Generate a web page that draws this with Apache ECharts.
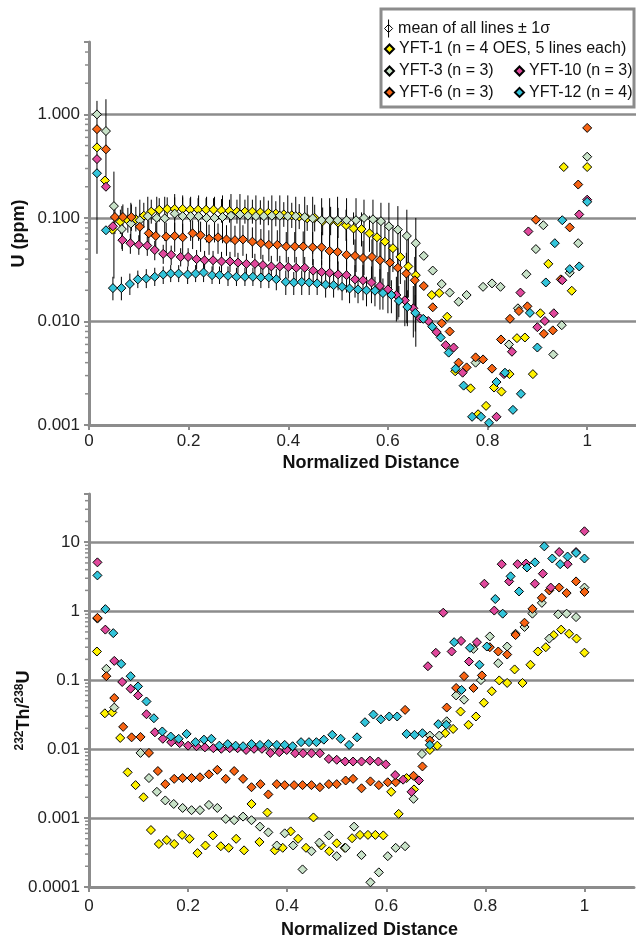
<!DOCTYPE html>
<html>
<head>
<meta charset="utf-8">
<script src="https://cdn.jsdelivr.net/npm/echarts@6/dist/echarts.min.js"></script>
<style>html,body{margin:0;padding:0;background:#fff}#c{width:636px;height:940px}</style>
</head>
<body>
<div id="c"></div>
<script>
// ---------- Data ----------
const distanceTicks = [0, 0.2, 0.4, 0.6, 0.8, 1.0];
const seriesNames = ['YFT-1 (n = 4 OES, 5 lines each)', 'YFT-3 (n = 3)', 'YFT-6 (n = 3)', 'YFT-10 (n = 3)', 'YFT-12 (n = 4)'];
const meanName = 'mean of all lines \u00b1 1\u03c3';

// Top panel: U (ppm) vs normalized distance, [x, U]
const yft1U = [[0.016,0.48],[0.032,0.23],[0.047,0.077],[0.063,0.092],[0.078,0.095],[0.094,0.097],[0.110,0.105],[0.125,0.115],[0.141,0.12],[0.157,0.122],[0.172,0.122],[0.188,0.122],[0.203,0.12],[0.219,0.12],[0.235,0.12],[0.250,0.12],[0.266,0.118],[0.282,0.117],[0.297,0.115],[0.313,0.115],[0.328,0.115],[0.344,0.113],[0.360,0.112],[0.375,0.11],[0.391,0.108],[0.407,0.106],[0.422,0.103],[0.438,0.099],[0.453,0.10],[0.469,0.093],[0.485,0.094],[0.500,0.09],[0.516,0.085],[0.531,0.079],[0.547,0.078],[0.563,0.071],[0.578,0.065],[0.594,0.059],[0.610,0.051],[0.625,0.042],[0.641,0.034],[0.656,0.028],[0.688,0.018],[0.703,0.0188],[0.719,0.0111],[0.735,0.0033],[0.766,0.00226],[0.781,0.00127],[0.797,0.00153],[0.813,0.0023],[0.828,0.0021],[0.844,0.0031],[0.859,0.0069],[0.875,0.007],[0.891,0.0031],[0.906,0.012],[0.922,0.036],[0.953,0.31],[0.969,0.0198],[1.000,0.31]];
const yft3U = [[0.016,1.0],[0.034,0.69],[0.050,0.13],[0.066,0.078],[0.084,0.088],[0.102,0.095],[0.118,0.104],[0.136,0.10],[0.152,0.099],[0.172,0.11],[0.188,0.104],[0.204,0.104],[0.220,0.104],[0.236,0.10],[0.252,0.10],[0.268,0.102],[0.285,0.105],[0.303,0.108],[0.319,0.105],[0.335,0.104],[0.351,0.104],[0.367,0.105],[0.383,0.105],[0.399,0.104],[0.415,0.104],[0.433,0.102],[0.449,0.099],[0.467,0.095],[0.483,0.095],[0.499,0.095],[0.517,0.095],[0.536,0.095],[0.552,0.10],[0.570,0.097],[0.586,0.093],[0.602,0.083],[0.620,0.077],[0.638,0.067],[0.656,0.057],[0.672,0.043],[0.690,0.031],[0.708,0.023],[0.724,0.019],[0.742,0.0155],[0.758,0.018],[0.776,0.004],[0.791,0.0216],[0.809,0.0233],[0.826,0.0216],[0.843,0.006],[0.861,0.0134],[0.878,0.0286],[0.897,0.05],[0.912,0.085],[0.932,0.0048],[0.949,0.0092],[0.965,0.0295],[0.982,0.057],[1.000,0.39]];
const yft6U = [[0.016,0.72],[0.034,0.46],[0.052,0.102],[0.068,0.102],[0.085,0.102],[0.102,0.082],[0.120,0.071],[0.134,0.067],[0.155,0.066],[0.172,0.067],[0.188,0.065],[0.208,0.071],[0.224,0.068],[0.241,0.063],[0.259,0.065],[0.276,0.062],[0.293,0.061],[0.309,0.062],[0.328,0.059],[0.345,0.057],[0.361,0.055],[0.378,0.055],[0.396,0.053],[0.413,0.053],[0.430,0.053],[0.449,0.052],[0.467,0.052],[0.483,0.048],[0.499,0.047],[0.517,0.044],[0.534,0.043],[0.550,0.041],[0.568,0.042],[0.584,0.039],[0.604,0.037],[0.620,0.033],[0.637,0.029],[0.654,0.025],[0.672,0.022],[0.690,0.0137],[0.708,0.0096],[0.724,0.008],[0.742,0.004],[0.758,0.0036],[0.776,0.0045],[0.791,0.0043],[0.809,0.0035],[0.827,0.0067],[0.845,0.0106],[0.863,0.0126],[0.880,0.014],[0.897,0.096],[0.913,0.0076],[0.931,0.0082],[0.947,0.0255],[0.965,0.081],[0.982,0.21],[1.000,0.74]];
const yft10U = [[0.016,0.37],[0.034,0.20],[0.048,0.083],[0.067,0.061],[0.083,0.057],[0.100,0.055],[0.117,0.054],[0.132,0.049],[0.149,0.045],[0.165,0.044],[0.184,0.042],[0.199,0.042],[0.216,0.040],[0.232,0.039],[0.249,0.039],[0.266,0.038],[0.283,0.038],[0.299,0.037],[0.316,0.036],[0.333,0.036],[0.349,0.035],[0.366,0.034],[0.383,0.034],[0.400,0.0335],[0.416,0.033],[0.433,0.033],[0.450,0.031],[0.467,0.030],[0.483,0.0295],[0.500,0.0285],[0.517,0.028],[0.534,0.0255],[0.550,0.025],[0.567,0.0238],[0.584,0.022],[0.600,0.0204],[0.617,0.018],[0.634,0.016],[0.651,0.0134],[0.665,0.0107],[0.681,0.0101],[0.698,0.0079],[0.716,0.0059],[0.732,0.0056],[0.750,0.0032],[0.818,0.0012],[0.833,0.0031],[0.849,0.0051],[0.866,0.019],[0.882,0.074],[0.900,0.0088],[0.915,0.0101],[0.933,0.012],[0.950,0.025],[0.984,0.108],[1.000,0.15]];
const yft12U = [[0.016,0.27],[0.034,0.076],[0.048,0.021],[0.065,0.021],[0.082,0.023],[0.098,0.0255],[0.115,0.026],[0.132,0.027],[0.149,0.0284],[0.164,0.029],[0.180,0.029],[0.198,0.0284],[0.214,0.029],[0.230,0.0297],[0.247,0.028],[0.262,0.028],[0.279,0.0276],[0.296,0.027],[0.313,0.027],[0.329,0.027],[0.345,0.0266],[0.361,0.0266],[0.376,0.0256],[0.395,0.0241],[0.411,0.0238],[0.427,0.0241],[0.442,0.0238],[0.458,0.0233],[0.475,0.0227],[0.491,0.0224],[0.508,0.0216],[0.523,0.0208],[0.540,0.0204],[0.557,0.020],[0.574,0.0198],[0.590,0.0188],[0.607,0.018],[0.622,0.0158],[0.639,0.0138],[0.655,0.0121],[0.671,0.0106],[0.689,0.0089],[0.706,0.0070],[0.722,0.0050],[0.736,0.0035],[0.752,0.0024],[0.769,0.0012],[0.787,0.0012],[0.803,0.00105],[0.818,0.0026],[0.835,0.0032],[0.851,0.0014],[0.867,0.0020],[0.885,0.0121],[0.900,0.0056],[0.917,0.0238],[0.935,0.057],[0.950,0.095],[0.965,0.032],[0.984,0.034],[1.000,0.143]];

// Top panel error bars (mean of all lines +/- 1 sigma): [x, low, high]
const yft1Err = [[0.063,0.07,0.12],[0.078,0.072,0.125],[0.094,0.074,0.128],[0.110,0.08,0.14],[0.125,0.088,0.15],[0.141,0.092,0.155],[0.157,0.094,0.158],[0.172,0.094,0.158],[0.188,0.094,0.158],[0.203,0.092,0.155],[0.219,0.092,0.155],[0.235,0.092,0.155],[0.250,0.092,0.155],[0.266,0.09,0.152],[0.282,0.09,0.15],[0.297,0.088,0.15],[0.313,0.088,0.15],[0.328,0.088,0.15],[0.344,0.086,0.148],[0.360,0.085,0.147],[0.375,0.083,0.145],[0.391,0.082,0.142],[0.407,0.08,0.14],[0.422,0.078,0.136],[0.438,0.075,0.133],[0.453,0.074,0.134],[0.469,0.068,0.126],[0.485,0.068,0.128],[0.500,0.064,0.125],[0.516,0.06,0.12],[0.531,0.055,0.113],[0.547,0.053,0.113],[0.563,0.047,0.105],[0.578,0.042,0.1],[0.594,0.037,0.093],[0.610,0.03,0.085],[0.625,0.023,0.075],[0.641,0.017,0.066],[0.656,0.013,0.058]];
const yft3Err = [[0.016,0.045,1.35],[0.034,0.25,1.40],[0.050,0.026,0.28],[0.066,0.05,0.13],[0.084,0.055,0.14],[0.102,0.06,0.15],[0.118,0.065,0.16],[0.136,0.062,0.16],[0.152,0.06,0.16],[0.172,0.065,0.17],[0.188,0.062,0.165],[0.204,0.06,0.16],[0.220,0.06,0.165],[0.236,0.058,0.16],[0.252,0.058,0.16],[0.268,0.057,0.165],[0.285,0.058,0.17],[0.303,0.06,0.17],[0.319,0.058,0.165],[0.335,0.057,0.165],[0.351,0.056,0.16],[0.367,0.056,0.165],[0.383,0.055,0.165],[0.399,0.054,0.165],[0.415,0.053,0.16],[0.433,0.05,0.16],[0.449,0.045,0.16],[0.467,0.04,0.155],[0.483,0.038,0.155],[0.499,0.036,0.16],[0.517,0.034,0.155],[0.536,0.03,0.155],[0.552,0.028,0.15],[0.570,0.025,0.15],[0.586,0.022,0.14],[0.602,0.018,0.14],[0.620,0.0104,0.13],[0.638,0.0096,0.12],[0.656,0.0057,0.10]];
const yft6Err = [[0.052,0.07,0.14],[0.068,0.075,0.135],[0.085,0.075,0.135],[0.102,0.058,0.11],[0.120,0.05,0.095],[0.134,0.047,0.09],[0.155,0.046,0.09],[0.172,0.047,0.09],[0.188,0.045,0.088],[0.208,0.05,0.095],[0.224,0.047,0.092],[0.241,0.044,0.086],[0.259,0.045,0.088],[0.276,0.043,0.085],[0.293,0.042,0.084],[0.309,0.043,0.085],[0.328,0.041,0.081],[0.345,0.04,0.078],[0.361,0.038,0.076],[0.378,0.038,0.076],[0.396,0.037,0.073],[0.413,0.037,0.073],[0.430,0.036,0.074],[0.449,0.035,0.073],[0.467,0.035,0.073],[0.483,0.032,0.068],[0.499,0.031,0.067],[0.517,0.029,0.063],[0.534,0.028,0.062],[0.550,0.026,0.06],[0.568,0.026,0.062],[0.584,0.024,0.058],[0.604,0.022,0.056],[0.620,0.019,0.051],[0.637,0.016,0.046],[0.654,0.012,0.042]];
const yft10Err = [[0.067,0.048,0.075],[0.083,0.045,0.07],[0.100,0.044,0.068],[0.117,0.043,0.066],[0.132,0.039,0.06],[0.149,0.036,0.055],[0.165,0.035,0.054],[0.184,0.034,0.051],[0.199,0.034,0.051],[0.216,0.032,0.049],[0.232,0.031,0.048],[0.249,0.031,0.048],[0.266,0.030,0.047],[0.283,0.030,0.047],[0.299,0.029,0.046],[0.316,0.028,0.045],[0.333,0.028,0.045],[0.349,0.027,0.044],[0.366,0.026,0.043],[0.383,0.026,0.043],[0.400,0.026,0.042],[0.416,0.025,0.042],[0.433,0.025,0.042],[0.450,0.023,0.040],[0.467,0.022,0.039],[0.483,0.021,0.039],[0.500,0.020,0.038],[0.517,0.019,0.038],[0.534,0.017,0.035],[0.550,0.016,0.035],[0.567,0.015,0.034],[0.584,0.013,0.032],[0.600,0.012,0.030],[0.617,0.010,0.027],[0.634,0.009,0.025],[0.651,0.007,0.022]];
const yft12Err = [[0.048,0.016,0.027],[0.065,0.016,0.027],[0.082,0.018,0.029],[0.098,0.021,0.031],[0.115,0.021,0.032],[0.132,0.022,0.033],[0.149,0.023,0.034],[0.164,0.024,0.035],[0.180,0.024,0.035],[0.198,0.023,0.034],[0.214,0.024,0.035],[0.230,0.024,0.036],[0.247,0.023,0.034],[0.262,0.023,0.034],[0.279,0.022,0.034],[0.296,0.022,0.033],[0.313,0.022,0.033],[0.329,0.022,0.033],[0.345,0.021,0.033],[0.361,0.021,0.033],[0.376,0.020,0.032],[0.395,0.018,0.031],[0.411,0.018,0.030],[0.427,0.018,0.031],[0.442,0.018,0.030],[0.458,0.018,0.030],[0.475,0.017,0.029],[0.491,0.017,0.029],[0.508,0.016,0.028],[0.523,0.015,0.027],[0.540,0.015,0.027],[0.557,0.014,0.027],[0.574,0.014,0.027],[0.590,0.013,0.026],[0.607,0.012,0.025],[0.622,0.011,0.022],[0.639,0.009,0.020],[0.655,0.008,0.018]];

// Bottom panel: 232Th/238U vs normalized distance, [x, ratio]
const yft1Th = [[0.016,0.26],[0.032,0.033],[0.047,0.034],[0.063,0.0145],[0.078,0.0046],[0.094,0.003],[0.110,0.002],[0.125,0.00067],[0.141,0.00042],[0.157,0.00048],[0.172,0.00042],[0.188,0.00057],[0.203,0.0005],[0.219,0.00031],[0.235,0.0004],[0.250,0.00056],[0.266,0.00039],[0.282,0.00037],[0.297,0.0005],[0.313,0.00034],[0.328,0.0016],[0.344,0.00045],[0.360,0.0012],[0.375,0.00034],[0.391,0.00037],[0.407,0.00064],[0.422,0.0005],[0.438,0.00037],[0.453,0.00102],[0.469,0.0004],[0.485,0.00033],[0.500,0.00043],[0.516,0.00037],[0.531,0.00051],[0.547,0.00057],[0.563,0.00057],[0.578,0.00057],[0.594,0.00056],[0.610,0.0024],[0.625,0.00115],[0.641,0.0038],[0.656,0.0026],[0.688,0.0097],[0.703,0.0112],[0.719,0.017],[0.735,0.0196],[0.750,0.035],[0.766,0.0225],[0.781,0.0297],[0.797,0.047],[0.813,0.069],[0.828,0.099],[0.844,0.091],[0.859,0.143],[0.875,0.091],[0.891,0.167],[0.906,0.26],[0.922,0.30],[0.938,0.45],[0.953,0.54],[0.969,0.47],[0.984,0.40],[1.000,0.25]];
const yft3Th = [[0.017,0.78],[0.035,0.146],[0.051,0.040],[0.104,0.0088],[0.121,0.0038],[0.137,0.0024],[0.154,0.0018],[0.171,0.0016],[0.189,0.0014],[0.207,0.0013],[0.224,0.0013],[0.242,0.00155],[0.259,0.0014],[0.276,0.00097],[0.293,0.00093],[0.311,0.00105],[0.328,0.00093],[0.345,0.00075],[0.362,0.00062],[0.379,0.0004],[0.395,0.0006],[0.412,0.0004],[0.431,0.00018],[0.449,0.00033],[0.465,0.00044],[0.484,0.00056],[0.500,0.00028],[0.518,0.00037],[0.535,0.00075],[0.550,0.00029],[0.568,0.000117],[0.585,0.000163],[0.603,0.00028],[0.619,0.00037],[0.638,0.00039],[0.655,0.0019],[0.672,0.0085],[0.688,0.0157],[0.707,0.0157],[0.722,0.0253],[0.741,0.06],[0.757,0.052],[0.776,0.284],[0.791,0.10],[0.809,0.43],[0.826,0.176],[0.844,0.307],[0.861,0.47],[0.879,0.59],[0.895,0.92],[0.914,1.32],[0.929,0.40],[0.947,0.90],[0.964,0.92],[0.983,0.82],[1.000,2.2]];
const yft6Th = [[0.017,0.80],[0.035,0.114],[0.051,0.055],[0.069,0.021],[0.086,0.0148],[0.104,0.015],[0.121,0.0088],[0.139,0.0048],[0.154,0.0031],[0.172,0.0037],[0.189,0.0038],[0.207,0.0038],[0.224,0.0039],[0.242,0.0043],[0.259,0.005],[0.276,0.0037],[0.293,0.0048],[0.311,0.0037],[0.328,0.0028],[0.346,0.0031],[0.362,0.0022],[0.379,0.0031],[0.395,0.003],[0.414,0.003],[0.431,0.003],[0.449,0.003],[0.466,0.0028],[0.484,0.0031],[0.500,0.0031],[0.518,0.0035],[0.533,0.0037],[0.550,0.0027],[0.568,0.0034],[0.585,0.003],[0.603,0.0033],[0.619,0.0033],[0.638,0.037],[0.655,0.0041],[0.673,0.0056],[0.688,0.0133],[0.722,0.040],[0.741,0.077],[0.757,0.114],[0.776,0.077],[0.793,0.117],[0.809,0.30],[0.826,0.26],[0.844,0.235],[0.861,0.45],[0.879,0.68],[0.895,1.08],[0.914,1.56],[0.929,2.0],[0.949,2.2],[0.964,1.83],[0.983,2.7],[1.000,1.9]];
const yft10Th = [[0.017,5.1],[0.033,0.54],[0.051,0.19],[0.067,0.094],[0.084,0.075],[0.099,0.060],[0.116,0.032],[0.133,0.0175],[0.149,0.0141],[0.166,0.0126],[0.183,0.0122],[0.200,0.0112],[0.217,0.011],[0.234,0.0106],[0.251,0.0103],[0.267,0.0101],[0.284,0.0103],[0.300,0.0103],[0.317,0.0097],[0.333,0.0101],[0.349,0.0101],[0.366,0.0088],[0.384,0.009],[0.399,0.0097],[0.416,0.0087],[0.432,0.0087],[0.449,0.0087],[0.466,0.0087],[0.484,0.0072],[0.500,0.007],[0.517,0.0066],[0.533,0.0066],[0.550,0.0066],[0.567,0.0068],[0.584,0.0066],[0.599,0.006],[0.618,0.0042],[0.634,0.0036],[0.651,0.0024],[0.666,0.0035],[0.684,0.159],[0.700,0.249],[0.715,0.95],[0.732,0.26],[0.751,0.37],[0.767,0.186],[0.783,0.355],[0.798,2.5],[0.818,1.02],[0.833,4.8],[0.848,2.7],[0.865,4.8],[0.882,4.9],[0.900,2.5],[0.916,3.5],[0.932,2.2],[0.949,7.2],[0.966,4.8],[0.983,7.2],[1.000,14.4]];
const yft12Th = [[0.017,3.3],[0.033,1.07],[0.049,0.48],[0.065,0.172],[0.084,0.114],[0.099,0.081],[0.116,0.049],[0.131,0.028],[0.148,0.018],[0.165,0.0152],[0.181,0.0141],[0.197,0.0166],[0.215,0.0126],[0.232,0.0137],[0.247,0.0141],[0.263,0.0112],[0.280,0.0118],[0.296,0.0112],[0.311,0.011],[0.328,0.0118],[0.345,0.0115],[0.362,0.0118],[0.379,0.0115],[0.395,0.0115],[0.411,0.011],[0.428,0.0126],[0.444,0.0126],[0.459,0.0126],[0.474,0.0137],[0.491,0.0161],[0.508,0.0141],[0.525,0.0115],[0.541,0.0148],[0.557,0.0245],[0.574,0.0317],[0.589,0.027],[0.606,0.0297],[0.622,0.0297],[0.641,0.0166],[0.657,0.0161],[0.673,0.017],[0.688,0.0115],[0.705,0.023],[0.721,0.0225],[0.737,0.355],[0.752,0.072],[0.769,0.294],[0.788,0.167],[0.803,0.307],[0.820,1.5],[0.835,0.92],[0.851,3.2],[0.868,1.93],[0.884,4.3],[0.900,5.1],[0.919,8.7],[0.935,5.8],[0.951,4.8],[0.966,6.2],[0.983,7.0],[1.000,5.8]];

// ---------- Styling ----------
const colors = ['#fff200', '#c8e2c8', '#f76414', '#e0489c', '#33c4da'];
const grey = '#8c8c8c';
const font = "'Liberation Sans', Arial, sans-serif";
const topU = [yft1U, yft3U, yft6U, yft10U, yft12U];
const botTh = [yft1Th, yft3Th, yft6Th, yft10Th, yft12Th];
const errAll = [].concat(yft1Err, yft3Err, yft6Err, yft10Err, yft12Err);

function isDecade(v) { const l = Math.log10(v); return Math.abs(l - Math.round(l)) < 1e-6; }
function minorValues(lowExp, highExp, maxVal) {
  const out = [];
  for (let e = lowExp; e <= highExp; e++) {
    for (let m = 2; m <= 9; m++) { const v = m * Math.pow(10, e); if (v <= maxVal * 1.0001) out.push([0, v]); }
  }
  return out;
}
function renderMinor(params, api) {
  const p = api.coord([0, api.value(1)]);
  return { type: 'line', shape: { x1: p[0] - 4, y1: p[1], x2: p[0], y2: p[1] }, style: { stroke: grey, lineWidth: 1.5 } };
}
function renderErr(params, api) {
  const a = api.coord([api.value(0), api.value(1)]);
  const b = api.coord([api.value(0), api.value(2)]);
  return { type: 'line', shape: { x1: a[0], y1: a[1], x2: b[0], y2: b[1] }, style: { stroke: '#000', lineWidth: 1 } };
}

function xAxisDef(gi, gap, margin) {
  return {
    type: 'value', gridIndex: gi, min: 0, max: 1.1,
    name: 'Normalized Distance', nameLocation: 'middle', nameGap: gap, nameMoveOverlap: false,
    nameTextStyle: { fontFamily: font, fontWeight: 'bold', fontSize: 18, color: '#111', padding: [0, 0, 0, 16] },
    axisLine: { lineStyle: { color: grey, width: 3 } },
    axisTick: { customValues: distanceTicks, length: 5, lineStyle: { color: grey, width: 2 } },
    axisLabel: { customValues: distanceTicks, margin: margin, fontFamily: font, fontSize: 17, color: '#222',
      formatter: v => String(parseFloat(v.toFixed(1))) },
    splitLine: { show: false }
  };
}

const yAxisTop = {
  type: 'log', logBase: 10, gridIndex: 0, min: 0.001, max: 5,
  name: 'U (ppm)', nameLocation: 'middle', nameGap: 61, nameMoveOverlap: false,
  nameTextStyle: { fontFamily: font, fontWeight: 'bold', fontSize: 18, color: '#111' },
  axisLine: { show: true, lineStyle: { color: grey, width: 3 } },
  axisTick: { show: true, length: 5, lineStyle: { color: grey, width: 2 } },
  axisLabel: { margin: 9, fontFamily: font, fontSize: 17, color: '#222',
    formatter: v => isDecade(v) ? Math.pow(10, Math.round(Math.log10(v))).toFixed(3) : '' },
  splitLine: { show: true, showMinLine: false, showMaxLine: false, lineStyle: { color: grey, width: 2.5 } }
};
const yAxisBot = {
  type: 'log', logBase: 10, gridIndex: 1, min: 0.0001, max: 50,
  name: '{sup|232}{b|Th/}{sup|238}{b|U}', nameLocation: 'middle', nameGap: 55, nameMoveOverlap: false,
  nameTextStyle: { padding: [0, 40, 0, 0], rich: {
    b: { fontFamily: font, fontWeight: 'bold', fontSize: 18, color: '#111', lineHeight: 20 },
    sup: { fontFamily: font, fontWeight: 'bold', fontSize: 12, color: '#111', lineHeight: 20, verticalAlign: 'top' } } },
  axisLine: { show: true, lineStyle: { color: grey, width: 3 } },
  axisTick: { show: true, length: 5, lineStyle: { color: grey, width: 2 } },
  axisLabel: { margin: 9, fontFamily: font, fontSize: 17, color: '#222',
    formatter: v => { if (!isDecade(v)) return ''; const e = Math.round(Math.log10(v));
      return e >= 0 ? String(Math.pow(10, e)) : '0.' + '0'.repeat(-e - 1) + '1'; } },
  splitLine: { show: true, showMinLine: false, showMaxLine: false, lineStyle: { color: grey, width: 2.5 } }
};

const series = [];
series.push({ type: 'custom', name: meanName, xAxisIndex: 0, yAxisIndex: 0, renderItem: renderErr,
  encode: { x: 0, y: [1, 2] }, data: errAll, z: 1, silent: true, itemStyle: { color: '#fff', borderColor: '#000' } });
seriesNames.forEach((n, i) => {
  series.push({ type: 'scatter', name: n, xAxisIndex: 0, yAxisIndex: 0, data: topU[i], symbol: 'diamond', symbolSize: 9,
    itemStyle: { color: colors[i], borderColor: '#000', borderWidth: 1, opacity: 1 }, z: 3, silent: true });
  series.push({ type: 'scatter', name: n, xAxisIndex: 1, yAxisIndex: 1, data: botTh[i], symbol: 'diamond', symbolSize: 9,
    itemStyle: { color: colors[i], borderColor: '#000', borderWidth: 1, opacity: 1 }, z: 3, silent: true });
});
series.push({ type: 'custom', xAxisIndex: 0, yAxisIndex: 0, renderItem: renderMinor, encode: { x: 0, y: 1 },
  data: minorValues(-3, 0, 5), silent: true, z: 4 });
series.push({ type: 'custom', xAxisIndex: 1, yAxisIndex: 1, renderItem: renderMinor, encode: { x: 0, y: 1 },
  data: minorValues(-4, 1, 50), silent: true, z: 4 });

const legendText = { fontFamily: font, fontSize: 16, color: '#111', lineHeight: 16 };
function legendDef(items, left, top, iw, ih) {
  return { orient: 'vertical', left: left, top: top, itemGap: 5.4, itemWidth: iw || 9, itemHeight: ih || 9,
    selectedMode: false, textStyle: legendText, padding: 0, data: items, z: 5 };
}
const meanIcon = 'path://M5,0L5,20M5,5.5L9.5,10L5,14.5L0.5,10Z';

const option = {
  animation: false,
  backgroundColor: '#fff',
  grid: [
    { left: 89, top: 42, width: 548, height: 383, containLabel: false, outerBoundsMode: 'none' },
    { left: 89, top: 494, width: 545, height: 393, containLabel: false, outerBoundsMode: 'none' }
  ],
  xAxis: [xAxisDef(0, 29, 8), xAxisDef(1, 34, 11)],
  yAxis: [yAxisTop, yAxisBot],
  legend: [
    legendDef([{ name: meanName, icon: meanIcon, itemStyle: { color: '#fff', borderColor: '#000', borderWidth: 1 } }], 384, 19, 9, 18),
    legendDef([{ name: seriesNames[0], icon: 'diamond' }], 384, 41),
    legendDef([{ name: seriesNames[1], icon: 'diamond' }, { name: seriesNames[2], icon: 'diamond' }], 384, 63),
    legendDef([{ name: seriesNames[3], icon: 'diamond' }, { name: seriesNames[4], icon: 'diamond' }], 514, 63)
  ],
  graphic: [{ type: 'rect', z: 4, shape: { x: 381, y: 9, width: 253, height: 98 },
    style: { fill: '#fff', stroke: grey, lineWidth: 3 } }],
  series: series
};
const chart = echarts.init(document.getElementById('c'), null, { renderer: 'canvas' });
chart.setOption(option);
</script>
</body>
</html>
